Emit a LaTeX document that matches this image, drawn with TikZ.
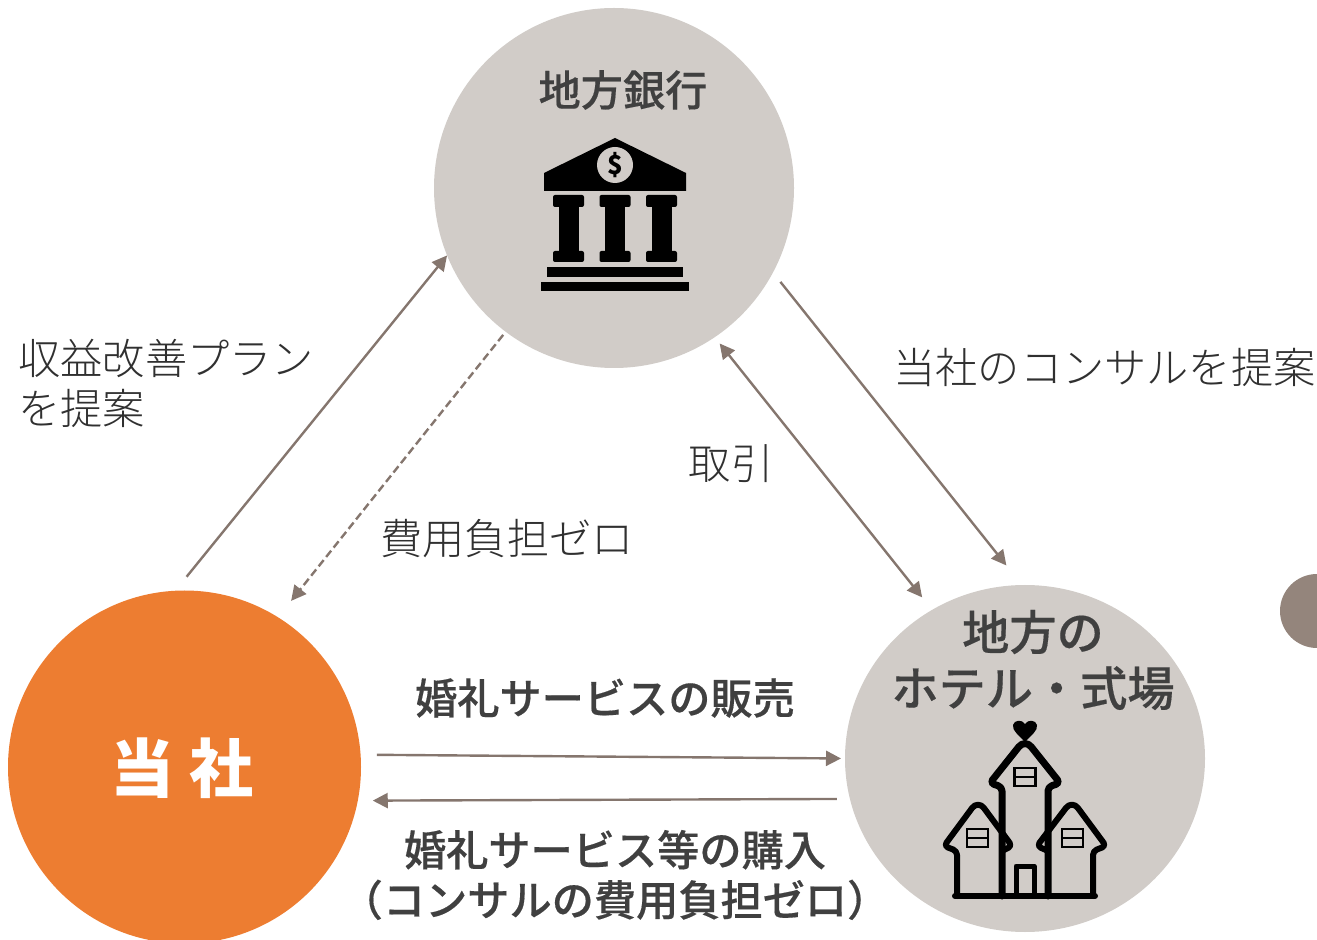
\documentclass[tikz,border=0pt]{standalone}
\usepackage{fontspec}
\setmainfont{Noto Sans CJK JP}
\newfontfamily\jplight{Noto Sans CJK JP Light}
\newfontfamily\jpmedium[FakeBold=0.35]{Noto Sans CJK JP Medium}
\usetikzlibrary{arrows.meta,shapes.geometric}
\tikzset{
  party/.style={circle,draw=none,fill=partygray,inner sep=0pt,outer sep=0pt,minimum size=180pt},
  link/.style={draw=linkbrown,line width=1.2pt,-{Triangle[length=7.5pt,width=7.5pt]}},
  head/.style={text=inkgray,inner sep=0pt,font=\fontsize{21.1}{25}\selectfont\jpmedium,align=center},
  note/.style={text=notegray,inner sep=0pt,font=\fontsize{21.1}{25}\selectfont\jplight,align=left},
  icon/.style={line width=3pt,line join=round,line cap=round,draw=black},
  pane/.style={line width=1.2pt,draw=black}
}
\definecolor{partygray}{HTML}{D1CCC8}
\definecolor{linkbrown}{HTML}{85766E}
\definecolor{inkgray}{HTML}{404040}
\definecolor{notegray}{HTML}{303030}
\definecolor{ours}{HTML}{ED7D31}
\definecolor{dotbrown}{HTML}{94857C}
\newcommand{\housepane}[2]{
  \draw[pane] (#1-10.5,#2-9) rectangle (#1+10.5,#2+9);
  \draw[pane] (#1-10.5,#2) -- (#1+10.5,#2);
}
\begin{document}
\begin{tikzpicture}[x=0.5pt,y=-0.5pt]
  \useasboundingbox (0,0) rectangle (1317,940);

  \node[party] (bank) at (614,188) {};
  \node[ellipse,draw=none,fill=partygray,inner sep=0pt,outer sep=0pt,minimum width=180pt,minimum height=173.5pt] (hotel) at (1025,758.5) {};
  \node[party,fill=ours,minimum size=176.5pt] (ours) at (184.5,767) {};
  \node[circle,fill=dotbrown,inner sep=0pt,outer sep=0pt,minimum size=37pt] (dot) at (1317,611) {};

  \draw[link,shorten <=9pt] (ours.93.6) to (bank.202.2);
  \draw[link,dash pattern=on 4pt off 2pt,shorten <=2pt,shorten >=10.5pt] (bank.233) to (ours.58);
  \draw[link,shorten <=6pt,shorten >=12.5pt] (bank.332.8) to (hotel.91.6);
  \draw[link,{Triangle[length=7.5pt,width=7.5pt]}-{Triangle[length=7.5pt,width=7.5pt]},shorten <=4pt,shorten >=8pt] (bank.304.5) to (hotel.122.7);
  \draw[link,shorten <=8.2pt,shorten >=2pt] (ours.4.5) to (hotel.180.6);
  \draw[link,shorten <=6.5pt,shorten >=7.5pt] (hotel.193.5) to (ours.349.3);

  \node[head] (bankname) at (623,90) {地方銀行};
  \node[head,font=\fontsize{23.6}{28}\selectfont\jpmedium] (hotelname) at (1033,660) {地方の\\ホテル・式場};
  \node[text=white,inner sep=0pt,font=\fontsize{32}{36}\selectfont\bfseries] (oursname) at (182,768) {当 社};
  \node[head] (sell) at (605,698) {婚礼サービスの販売};
  \node[head] (buy) at (615,875) {婚礼サービス等の購入\\（コンサルの費用負担ゼロ）};
  \node[note,anchor=west] (plan) at (18,383) {収益改善プラン\\を提案};
  \node[note,anchor=west] (propose) at (893,367) {当社のコンサルを提案};
  \node[note] (deal) at (731,464) {取引};
  \node[note] (nocost) at (507,539) {費用負担ゼロ};

  % bank
  \fill[line join=round] (615,138) -- (686,173) -- (686,191) -- (544,191) -- (544,173) -- cycle;
  \fill[partygray] (615,165) circle (9pt);
  \node[inner sep=0pt,font=\fontsize{13}{13}\selectfont\bfseries] (dollar) at (615,165) {\$};
  \foreach \cx in {568.5,615,661.5} {
    \fill[rounded corners=1pt] (\cx-15.5,195) rectangle (\cx+15.5,207);
    \fill (\cx-10,200) rectangle (\cx+10,256);
    \fill[rounded corners=1pt] (\cx-15.5,251) rectangle (\cx+15.5,262);
  }
  \fill (547,267) rectangle (683,277);
  \fill (541,282) rectangle (689,291);

  % wedding hall
  \fill (1025,742) .. controls (1019,735) and (1012,731) .. (1013,725)
    .. controls (1014,720) and (1022,719) .. (1025,724)
    .. controls (1028,719) and (1036,720) .. (1037,725)
    .. controls (1038,731) and (1031,735) .. (1025,742) -- cycle;
  \draw[icon,line width=3.5pt,rounded corners=2pt] (1002,896) -- (1002,787) -- (990,783) [rounded corners=5pt] -- (1025,739) [rounded corners=2pt] -- (1060,783) -- (1048,787) -- (1048,896);
  \draw[icon,rounded corners=2pt] (957,896) -- (957,851) -- (944,846) [rounded corners=5pt] -- (978,800) [rounded corners=2pt] -- (1012,846) -- (1002,851);
  \draw[icon,rounded corners=2pt] (1048,851) -- (1037,846) [rounded corners=5pt] -- (1072,800) [rounded corners=2pt] -- (1106,846) -- (1093,851) -- (1093,896);
  \draw[icon] (955,896) -- (1095,896);
  \draw[icon,line width=2.5pt] (1016,896) -- (1016,866) -- (1034,866) -- (1034,896);
  \housepane{1025}{777}
  \housepane{977.5}{838}
  \housepane{1072.5}{838}
\end{tikzpicture}
\end{document}
